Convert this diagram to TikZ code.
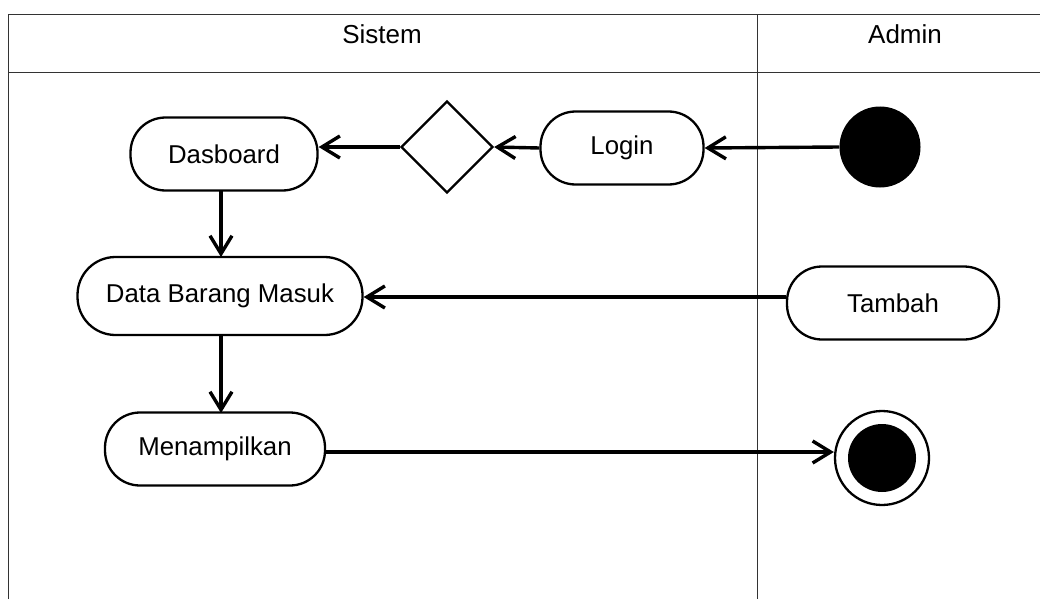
\documentclass[tikz,border=0pt]{standalone}
\usepackage{fontspec}
\setmainfont{Liberation Sans}
\usetikzlibrary{shapes.geometric,arrows.meta}
\begin{document}
\begin{tikzpicture}[x=1pt,y=-1pt,
  lane/.style={line width=1pt,draw=black!80},
  action/.style={draw,line width=2.3pt,rectangle,rounded corners=35pt,
    minimum height=73pt,inner sep=0pt,font=\fontsize{25.8}{30}\selectfont},
  decision/.style={draw,line width=2.3pt,diamond,aspect=1,minimum size=92pt,inner sep=0pt},
  initial/.style={circle,fill=black,minimum size=81pt,inner sep=0pt},
  finalring/.style={circle,draw,line width=2.3pt,minimum size=94pt,inner sep=0pt},
  finaldot/.style={circle,fill=black,minimum size=68pt,inner sep=0pt},
  flow/.style={line width=3.4pt,-{Straight Barb[length=18pt,width=22pt,line width=3.4pt]}},
  header/.style={font=\fontsize{26}{30}\selectfont}]
\useasboundingbox (0,0) rectangle (1040,599);

% swimlane frame
\draw[lane] (8,599) -- (8,15) -- (1040,15);
\draw[lane] (8,73) -- (1040,73);
\draw[lane] (757,15) -- (757,599);
\node[header] (sistem) at (382,34) {Sistem};
\node[header] (admin) at (905,34) {Admin};

% activities
\node[initial] (start) at (880,147) {};
\node[action,minimum width=163pt] (login) at (622,148) {Login};
\node[decision] (dec) at (447,147) {};
\node[action,minimum width=187pt] (dash) at (224,154) {Dasboard};
\node[action,minimum width=285pt,minimum height=78pt,rounded corners=38pt] (dbm) at (220,296) {Data Barang Masuk};
\node[action,minimum width=212pt] (tambah) at (893,303) {Tambah};
\node[action,minimum width=220pt] (tampil) at (215,449) {Menampilkan};
\node[finalring] (endring) at (882,458) {};
\node[finaldot] (enddot) at (882,458) {};

% control flow
\draw[flow] (start.west) -- (login.east);
\draw[flow] (login.west) -- (dec.east);
\draw[flow] (dec.west) -- (dec.west -| dash.east);
\draw[flow] (221,191) -- (221,257);
\draw[flow] (221,335) -- (221,413);
\draw[flow] (tambah.west |- 0,297) -- (dbm.east |- 0,297);
\draw[flow] (tampil.east |- 0,452) -- (endring.west |- 0,452);
\end{tikzpicture}
\end{document}
